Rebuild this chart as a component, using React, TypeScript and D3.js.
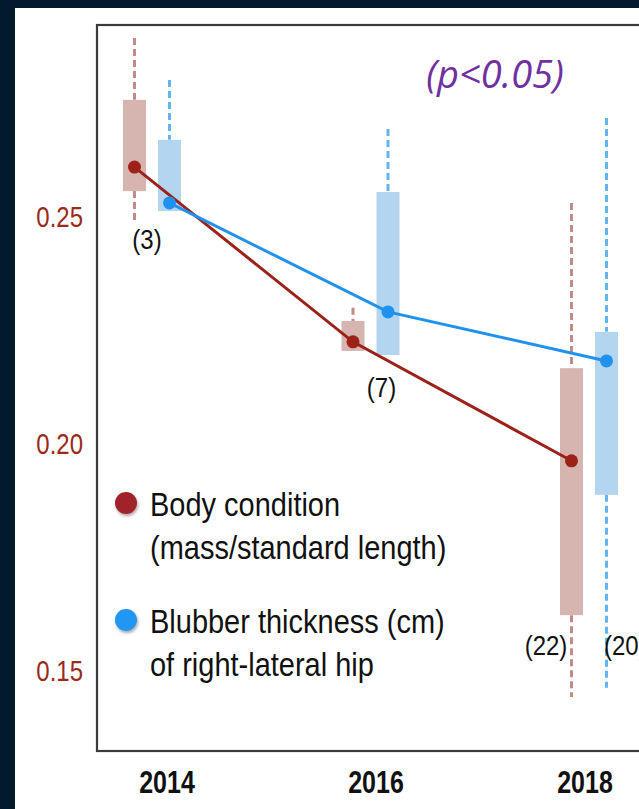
import React from "react";
import * as d3 from "d3";

// ---- data ----
const years = [2014, 2016, 2018];
const yTicks = [0.15, 0.2, 0.25];

// Body condition (mass / standard length)
const bodyMean = [0.261, 0.2225, 0.1963];
const bodyQ1 = [0.2557, 0.2205, 0.1623];
const bodyQ3 = [0.2758, 0.2271, 0.2167];
const bodyMin = [0.2493, 0.2205, 0.1443];
const bodyMax = [0.2894, 0.23, 0.2531];

// Blubber thickness (cm) of right-lateral hip
const blubMean = [0.2531, 0.2291, 0.2183];
const blubQ1 = [0.2513, 0.2196, 0.1888];
const blubQ3 = [0.267, 0.2555, 0.2247];
const blubMin = [0.2513, 0.2196, 0.1463];
const blubMax = [0.2802, 0.2694, 0.2718];

const sampleSizes = ["(3)", "(7)", "(22)", "(20)"];
const legendLines = [
  ["Body condition", "(mass/standard length)"],
  ["Blubber thickness (cm)", "of right-lateral hip"],
];
const pText = "(p<0.05)";

const W = 639;
const H = 809;
const RED = "#9b2119";
const BLUE = "#2092ee";
const RED_BOX = "#d6b4b0";
const BLUE_BOX = "#b4d5ef";
const RED_WH = "#c08c86";
const BLUE_WH = "#62b5f2";
const TICK_RED = "#9a2a1c";

export default function App() {
  React.useEffect(() => {
    document.body.style.margin = "0";
    document.body.style.background = "#021a2e";
  }, []);

  const y = d3.scaleLinear().domain([0.15, 0.25]).range([671, 217]);
  const xData = d3.scaleLinear().domain([2014, 2018]).range([152, 589]);
  const xLabel = d3.scaleLinear().domain([2014, 2018]).range([167, 585]);
  const off = 17.5;
  const boxW = 23;

  const series = [
    { key: "body", mean: bodyMean, q1: bodyQ1, q3: bodyQ3, mn: bodyMin, mx: bodyMax, dx: -off, line: RED, box: RED_BOX, wh: RED_WH },
    { key: "blub", mean: blubMean, q1: blubQ1, q3: blubQ3, mn: blubMin, mx: blubMax, dx: off, line: BLUE, box: BLUE_BOX, wh: BLUE_WH },
  ];

  const lineGen = d3
    .line<[number, number]>()
    .x((d) => d[0])
    .y((d) => d[1]);

  // sample-size label placement (x offset from the year position, baseline value)
  const countPos = [
    { yr: 2014, dx: -5, v: 0.2429 },
    { yr: 2016, dx: 11, v: 0.2104 },
    { yr: 2018, dx: -43, v: 0.1535 },
    { yr: 2018, dx: 15, v: 0.1535 },
  ];

  const font = "'Liberation Sans', Arial, Helvetica, sans-serif";

  const T = (x: number, yy: number, sy: number) => `translate(${x},${yy}) scale(1,${sy})`;

  return (
    <svg width={W} height={H} style={{ display: "block" }}>
      <defs>
        <filter id="sh" x="-50%" y="-50%" width="200%" height="200%">
          <feDropShadow dx="1" dy="2" stdDeviation="1.5" floodColor="#000" floodOpacity="0.35" />
        </filter>
        <clipPath id="clip">
          <rect x={0} y={0} width={W} height={H} />
        </clipPath>
      </defs>
      <rect x={0} y={0} width={W} height={H} fill="#021a2e" />
      <rect x={15} y={8} width={W - 15} height={H - 8} fill="#ffffff" />

      <g clipPath="url(#clip)">
        {/* frame */}
        <rect x={97} y={25} width={600} height={726} fill="none" stroke="#3a3a3a" strokeWidth={2.2} />

        {/* y tick labels */}
        {yTicks.map((t) => (
          <text key={t} transform={T(83, y(t) + 10, 1.22)} textAnchor="end" fill={TICK_RED} fontFamily={font} fontSize={24}>
            {d3.format(".2f")(t)}
          </text>
        ))}

        {/* x labels */}
        {years.map((yr) => (
          <text key={yr} transform={T(xLabel(yr), 793, 1.25)} textAnchor="middle" fill="#111" fontFamily={font} fontWeight="bold" fontSize={25}>
            {yr}
          </text>
        ))}

        {/* whiskers & boxes */}
        {series.map((s) =>
          years.map((yr, i) => {
            const cx = xData(yr) + s.dx;
            return (
              <g key={s.key + yr}>
                <line x1={cx} x2={cx} y1={y(s.mx[i])} y2={y(s.q3[i])} stroke={s.wh} strokeWidth={3} strokeDasharray="7,4" />
                <line x1={cx} x2={cx} y1={y(s.q1[i])} y2={y(s.mn[i])} stroke={s.wh} strokeWidth={3} strokeDasharray="7,4" />
                <rect x={cx - boxW / 2} y={y(s.q3[i])} width={boxW} height={y(s.q1[i]) - y(s.q3[i])} fill={s.box} />
              </g>
            );
          })
        )}

        {/* mean lines */}
        {series.map((s) => (
          <path
            key={s.key + "line"}
            d={lineGen(years.map((yr, i) => [xData(yr) + s.dx, y(s.mean[i])])) || ""}
            fill="none"
            stroke={s.line}
            strokeWidth={3}
          />
        ))}
        {series.map((s) =>
          years.map((yr, i) => (
            <circle key={s.key + "pt" + yr} cx={xData(yr) + s.dx} cy={y(s.mean[i])} r={6.5} fill={s.line} />
          ))
        )}

        {/* sample sizes */}
        {sampleSizes.map((t, i) => (
          <text
            key={t}
            transform={T(xData(countPos[i].yr) + countPos[i].dx, y(countPos[i].v), 1.15)}
            textAnchor={i === 3 ? "start" : "middle"}
            fill="#111"
            fontFamily={font}
            fontSize={24}
          >
            {t}
          </text>
        ))}

        {/* p value */}
        <text x={495} y={88} textAnchor="middle" fill="#7030a0" fontFamily="'Open Sans', sans-serif" fontStyle="italic" fontSize={38}>
          {pText}
        </text>

        {/* legend */}
        {legendLines.map((lines, i) => {
          const top = i === 0 ? 516 : 633;
          return (
            <g key={i}>
              <circle cx={126} cy={top - 13} r={11} fill={i === 0 ? "#a0232a" : "#2196f3"} filter="url(#sh)" />
              {lines.map((l, j) => (
                <text key={j} transform={T(150, top + j * 43, 1.12)} fill="#111" fontFamily={font} fontSize={29}>
                  {l}
                </text>
              ))}
            </g>
          );
        })}
      </g>
    </svg>
  );
}
